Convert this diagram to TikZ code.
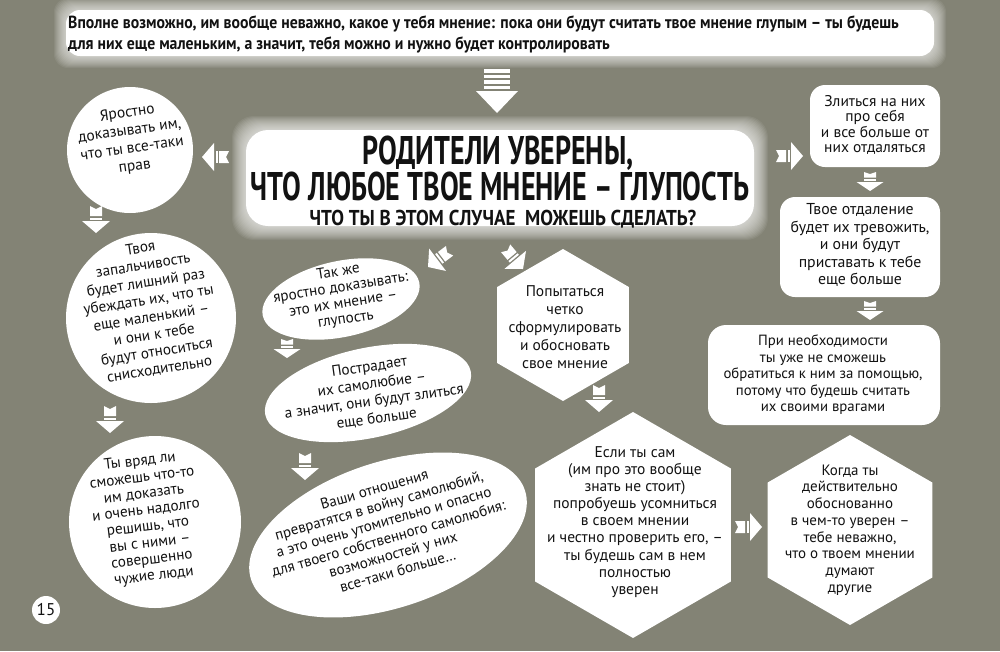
\documentclass[tikz,border=0pt]{standalone}
\usepackage{fontspec}
\setmainfont{PT Sans}
\newfontfamily\condfont[FakeStretch=0.90]{PT Sans}
\newfontfamily\titlefont[FakeStretch=0.70]{PT Sans}
\newfontfamily\subfont[FakeStretch=0.885]{PT Sans}
\usetikzlibrary{shapes.geometric}
\definecolor{bgcol}{RGB}{131,131,117}
\definecolor{ink}{RGB}{18,18,18}
\tikzset{
  shapew/.style={fill=white, draw=none, inner sep=0pt, outer sep=0pt},
  circ/.style={shapew, circle},
  ell/.style={shapew, ellipse},
  rbox/.style={shapew, rectangle, rounded corners=15pt},
  hexa/.style={shapew, regular polygon, regular polygon sides=6, shape border rotate=30},
  txt/.style={text=ink, align=center, inner sep=0pt, font=\fontsize{15.2}{17.5}\selectfont},
  farrow/.pic={
    \fill[white] (0,0) -- (-12,14) -- (-12,-14) -- cycle;
    \fill[white] (-13.5,-6) rectangle (-15.5,6);
    \fill[white] (-17,-6) -- (-27,-6) -- (-24,0) -- (-27,6) -- (-17,6) -- cycle;
  },
  sarrow/.pic={
    \fill[white] (0,0) -- (-9,13.5) -- (-9,-13.5) -- cycle;
    \fill[white] (-10.5,-6) rectangle (-12,6);
    \fill[white] (-13.5,-6) -- (-19,-6) -- (-17,0) -- (-19,6) -- (-13.5,6) -- cycle;
  },
  bigarrow/.pic={
    \fill[white] (0,0) -- (-22,21) -- (-22,-21) -- cycle;
    \foreach \a in {0,1,2,3}{\fill[white] (-24-5.5*\a,-13) rectangle (-27.5-5.5*\a,13);}
  }
}
\begin{document}
\begin{tikzpicture}[x=1pt,y=1pt]
\useasboundingbox (0,0) rectangle (1000,-651);
\fill[bgcol] (0,0) rectangle (1000,-651);

% top banner glow
\foreach \i in {1,...,12}{
  \fill[white, opacity=0.07, rounded corners=14pt] (66-\i,-10+\i) rectangle (934+\i,-56-\i);
}
\node[rbox, rounded corners=14pt, minimum width=868pt, minimum height=46pt] (topbox) at (500,-33) {};
\node[txt, anchor=base west, align=left, font=\condfont\bfseries\fontsize{17.5}{21}\selectfont] (toptext) at (68,-49)
  {Вполне возможно, им вообще неважно, какое у тебя мнение: пока они будут считать твое мнение глупым – ты будешь\\для них еще маленьким, а значит, тебя можно и нужно будет контролировать};

% main banner glow
\foreach \i in {1,...,14}{
  \fill[white, opacity=0.07, rounded corners=22pt] (246-\i,-130+\i) rectangle (754+\i,-226-\i);
}
\node[rbox, rounded corners=22pt, minimum width=508pt, minimum height=96pt] (mainbox) at (500,-178) {};
\node[txt, anchor=base, font=\titlefont\bfseries\fontsize{40}{40}\selectfont] (title1) at (498,-164) {РОДИТЕЛИ УВЕРЕНЫ,};
\node[txt, anchor=base, font=\titlefont\bfseries\fontsize{40}{40}\selectfont] (title2) at (500,-200) {ЧТО ЛЮБОЕ ТВОЕ МНЕНИЕ – ГЛУПОСТЬ};
\node[txt, anchor=base, font=\subfont\bfseries\fontsize{21.5}{24}\selectfont] (title3) at (503,-225) {ЧТО ТЫ В ЭТОМ СЛУЧАЕ\ \ МОЖЕШЬ СДЕЛАТЬ?};

% left column circles
\node[circ, minimum size=126pt] (c1) at (130,-150) {};
\node[txt, rotate=8, font=\fontsize{15.5}{18}\selectfont] (t1) at (131,-140) {Яростно\\доказывать им,\\что ты все-таки\\прав};
\node[circ, minimum size=170pt] (c2) at (151,-318) {};
\node[txt, rotate=9] (t2) at (150,-309) {Твоя\\запальчивость\\будет лишний раз\\убеждать их, что ты\\еще маленький –\\и они к тебе\\будут относиться\\снисходительно};
\node[circ, minimum size=172pt] (c3) at (155,-522) {};
\node[txt, rotate=7, font=\fontsize{15.2}{16.5}\selectfont] (t3) at (147,-519) {Ты вряд ли\\сможешь что-то\\им доказать\\и очень надолго\\решишь, что\\вы с ними –\\совершенно\\чужие люди};
\node[circ, minimum size=28pt] (pg) at (46,-610) {};
\node[txt, font=\fontsize{17}{20}\selectfont] (pgt) at (46,-610) {15};

% middle ellipses
\node[ell, minimum width=160pt, minimum height=76pt, rotate=12] (e1) at (341,-299) {};
\node[txt, rotate=9, font=\fontsize{15.2}{16}\selectfont] (te1) at (342,-296) {Так же\\яростно доказывать:\\это их мнение –\\глупость};
\node[ell, minimum width=210pt, minimum height=90pt, rotate=12] (e2) at (368,-393) {};
\node[txt, rotate=8] (te2) at (373,-393) {Пострадает\\их самолюбие –\\а значит, они будут злиться\\еще больше};
\node[ell, minimum width=288pt, minimum height=146pt, rotate=18] (e3) at (388,-535) {};
\node[txt, rotate=16, font=\fontsize{15}{17}\selectfont] (te3) at (386,-530) {Ваши отношения\\превратятся в войну самолюбий,\\а это очень утомительно и опасно\\для твоего собственного самолюбия:\\возможностей у них\\все-таки больше…};

% hexagons
\node[hexa, minimum size=152pt] (h1) at (563,-325) {};
\node[txt, font=\fontsize{15.5}{18}\selectfont] (th1) at (565,-327) {Попытаться\\четко\\сформулировать\\и обосновать\\свое мнение};
\node[hexa, minimum size=226pt] (h2) at (633,-525) {};
\node[txt, font=\fontsize{15.5}{17.1}\selectfont] (th2) at (635,-522) {Если ты сам\\(им про это вообще\\знать не стоит)\\попробуешь усомниться\\в своем мнении\\и честно проверить его, –\\ты будешь сам в нем\\полностью\\уверен};
\node[hexa, minimum size=190pt] (h3) at (850,-530) {};
\node[txt, font=\fontsize{15}{16.7}\selectfont] (th3) at (850,-530) {Когда ты\\действительно\\обоснованно\\в чем-то уверен –\\тебе неважно,\\что о твоем мнении\\думают\\другие};

% right boxes
\node[rbox, minimum width=130pt, minimum height=82pt] (r1) at (875,-126) {};
\node[txt, font=\fontsize{15.5}{15.5}\selectfont] (tr1) at (875,-125) {Злиться на них\\про себя\\и все больше от\\них отдаляться};
\node[rbox, minimum width=160pt, minimum height=100pt] (r2) at (860,-247) {};
\node[txt, font=\fontsize{15.8}{17.5}\selectfont] (tr2) at (860,-245) {Твое отдаление\\будет их тревожить,\\и они будут\\приставать к тебе\\еще больше};
\node[rbox, rounded corners=18pt, minimum width=232pt, minimum height=100pt] (r3) at (824,-375) {};
\node[txt, font=\fontsize{14.8}{16.5}\selectfont] (tr3) at (823,-375) {При необходимости\\ты уже не сможешь\\обратиться к ним за помощью,\\потому что будешь считать\\их своими врагами};

% arrows
\pic[rotate=-90] at (497,-113) {bigarrow};
\pic[rotate=180] at (202,-157) {farrow};
\pic at (803,-156) {farrow};
\pic[rotate=-90] at (96,-233) {farrow};
\pic[rotate=-90] at (110,-433) {farrow};
\pic[rotate=217] at (428,-267) {farrow};
\pic[rotate=-50] at (523,-269) {farrow};
\pic[rotate=-90] at (287,-358) {sarrow};
\pic[rotate=-90] at (305,-480) {farrow};
\pic[rotate=-90] at (870,-191) {sarrow};
\pic[rotate=-90] at (870,-320) {sarrow};
\pic[rotate=-90] at (599,-412) {farrow};
\pic at (762,-527) {farrow};
\end{tikzpicture}
\end{document}
